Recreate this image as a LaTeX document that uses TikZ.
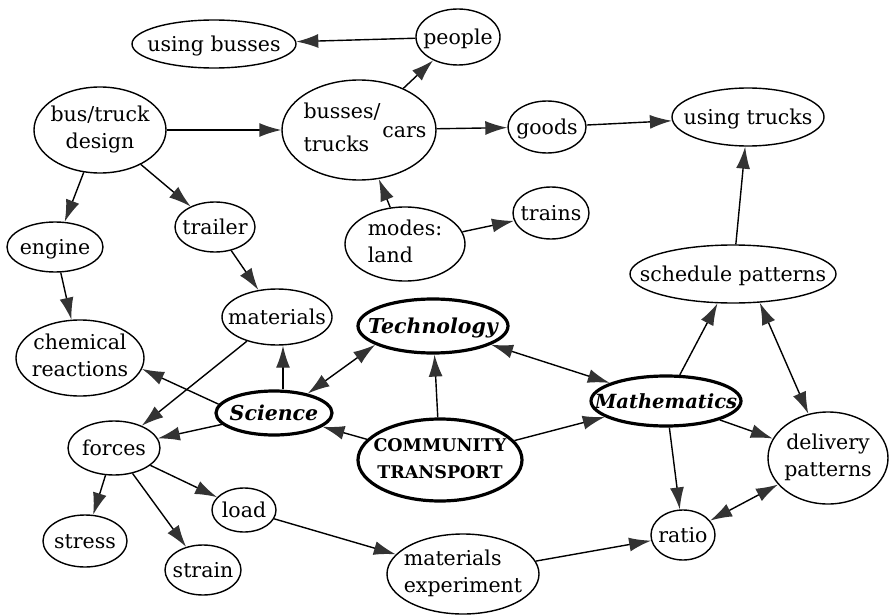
\documentclass[tikz,border=0pt]{standalone}
\usepackage{fontspec}
\setmainfont{DejaVu Serif}
\usetikzlibrary{shapes.geometric,arrows.meta}
\newcommand\ctr[1]{\makebox[0pt]{\raisebox{-0.36em}{#1}}}
\newcommand\ctrm[2][c]{\makebox[0pt]{\raisebox{-0.25em}{\begin{tabular}[c]{@{}#1@{}}#2\end{tabular}}}}
\tikzset{
  nd/.style={ellipse, draw=black, line width=1.4pt, inner sep=0pt, text height=0pt, text depth=0pt, font=\fontsize{20.5}{27}\selectfont},
  mainnd/.style={nd, line width=3.2pt, font=\fontsize{20.5}{26}\selectfont\bfseries\itshape},
  ctnd/.style={nd, line width=3.2pt, font=\fontsize{17.5}{27}\selectfont\bfseries},
  arr/.style={line width=1.4pt, -{Latex[length=22pt,width=14pt,color=black!80]}},
  darr/.style={line width=1.4pt, {Latex[length=22pt,width=14pt,color=black!80]}-{Latex[length=22pt,width=14pt,color=black!80]}}
}
\begin{document}
\begin{tikzpicture}[x=1pt,y=-1pt]
\useasboundingbox (0,0) rectangle (896,615);
% nodes
\node[nd, minimum width=164pt, minimum height=48pt] (ub) at (214,44) {\ctr{using busses}};
\node[nd, minimum width=84pt, minimum height=56pt] (pe) at (458,37) {\ctr{people}};
\node[nd, minimum width=132pt, minimum height=86pt] (bd) at (100,130) {\ctrm{bus/truck\\design}};
\node[nd, minimum width=154pt, minimum height=100pt] (bt) at (359,130) {\makebox[0pt]{\hspace{12pt}\raisebox{-0.25em}{\begin{tabular}[c]{@{}l@{}}busses/\\[6pt]trucks\end{tabular}}\hspace{2pt}\raisebox{-0.36em}{cars}}};
\node[nd, minimum width=78pt, minimum height=52pt] (go) at (547,127) {\ctr{goods}};
\node[nd, minimum width=152pt, minimum height=58pt] (ut) at (748,117) {\ctr{using trucks}};
\node[nd, minimum width=96pt, minimum height=50pt] (en) at (55,247) {\ctr{engine}};
\node[nd, minimum width=80pt, minimum height=50pt] (tr) at (215,227) {\ctr{trailer}};
\node[nd, minimum width=120pt, minimum height=74pt] (ml) at (405,244) {\ctrm[l]{modes:\\land}};
\node[nd, minimum width=76pt, minimum height=52pt] (tn) at (551,213) {\ctr{trains}};
\node[nd, minimum width=206pt, minimum height=58pt] (sp) at (733,274) {\ctr{schedule patterns}};
\node[nd, minimum width=110pt, minimum height=56pt] (ma) at (277,317) {\ctr{materials}};
\node[mainnd, minimum width=150pt, minimum height=54pt] (te) at (433,326) {\ctr{Technology}};
\node[nd, minimum width=128pt, minimum height=76pt] (cr) at (80,358) {\ctrm{chemical\\reactions}};
\node[mainnd, minimum width=116pt, minimum height=44pt] (sc) at (274,413) {\ctr{Science}};
\node[mainnd, minimum width=150pt, minimum height=50pt, font=\fontsize{19.5}{26}\selectfont\bfseries\itshape] (mt) at (666,401) {\ctr{Mathematics}};
\node[ctnd, minimum width=164pt, minimum height=82pt] (ct) at (440,460) {\ctrm{COMMUNITY\\TRANSPORT}};
\node[nd, minimum width=92pt, minimum height=54pt] (fo) at (114,448) {\ctr{forces}};
\node[nd, minimum width=120pt, minimum height=92pt] (dp) at (828,458) {\ctrm{delivery\\patterns}};
\node[nd, minimum width=84pt, minimum height=52pt] (st) at (85,541) {\ctr{stress}};
\node[nd, minimum width=76pt, minimum height=50pt] (sn) at (203,570) {\ctr{strain}};
\node[nd, minimum width=64pt, minimum height=44pt] (lo) at (244,510) {\ctr{load}};
\node[nd, minimum width=64pt, minimum height=50pt] (ra) at (683,535) {\ctr{ratio}};
\node[nd, minimum width=152pt, minimum height=80pt] (me) at (463,574) {\ctrm[l]{materials\\experiment}};
% edges
\draw[arr] (pe) -- (ub);
\draw[arr] (bt) -- (pe);
\draw[arr] (bd) -- (bt);
\draw[arr] (bt) -- (go);
\draw[arr] (go) -- (ut);
\draw[arr] (ml) -- (bt);
\draw[arr] (ml) -- (tn);
\draw[arr] (bd) -- (en);
\draw[arr] (bd) -- (tr);
\draw[arr] (en) -- (cr);
\draw[arr] (tr) -- (ma);
\draw[arr] (sp) -- (ut);
\draw[arr] (sc.171) -- (cr.-10);
\draw[arr] ([xshift=9pt]sc.north) -- ([xshift=6pt]ma.south);
\draw[darr] (sc.30) -- (te.198);
\draw[arr] (sc) -- (fo);
\draw[arr] (ma) -- (fo);
\draw[arr] (ct) -- (sc);
\draw[arr] (ct) -- (te);
\draw[arr] (ct) -- (mt);
\draw[darr] (te) -- (mt);
\draw[arr] (mt) -- (sp);
\draw[darr] (sp.-47) -- (dp.114);
\draw[arr] (mt) -- (dp);
\draw[arr] (mt) -- (ra);
\draw[darr] (ra) -- (dp);
\draw[arr] (fo) -- (st);
\draw[arr] (fo) -- (sn);
\draw[arr] (fo) -- (lo);
\draw[arr] (lo) -- (me);
\draw[arr] (me) -- (ra);
\end{tikzpicture}
\end{document}
